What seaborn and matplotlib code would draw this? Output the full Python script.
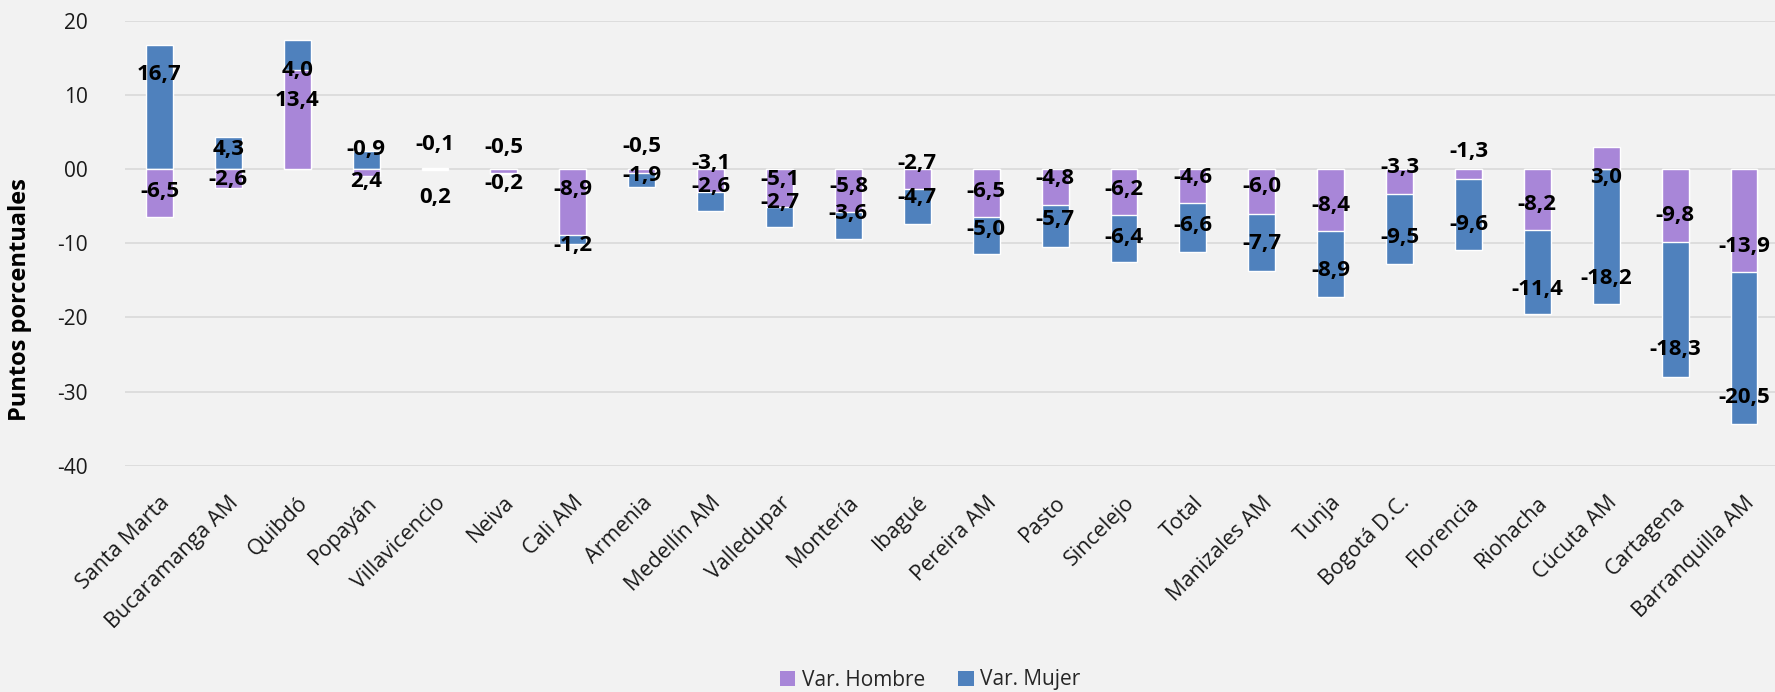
import matplotlib
matplotlib.use("Agg")
import matplotlib.pyplot as plt
import seaborn as sns
import pandas as pd
from matplotlib.patches import Patch

# Categories and series (percentage points)
ciudades = ["Santa Marta", "Bucaramanga AM", "Quibdó", "Popayán", "Villavicencio",
            "Neiva", "Cali AM", "Armenia", "Medellín AM", "Valledupar", "Montería",
            "Ibagué", "Pereira AM", "Pasto", "Sincelejo", "Total", "Manizales AM",
            "Tunja", "Bogotá D.C.", "Florencia", "Riohacha", "Cúcuta AM",
            "Cartagena", "Barranquilla AM"]
var_hombre = [-6.5, -2.6, 13.4, -0.9, -0.1, -0.5, -8.9, -0.5, -3.1, -5.1, -5.8, -2.7,
              -6.5, -4.8, -6.2, -4.6, -6.0, -8.4, -3.3, -1.3, -8.2, 3.0, -9.8, -13.9]
var_mujer = [16.7, 4.3, 4.0, 2.4, 0.2, -0.2, -1.2, -1.9, -2.6, -2.7, -3.6, -4.7,
             -5.0, -5.7, -6.4, -6.6, -7.7, -8.9, -9.5, -9.6, -11.4, -18.2, -18.3, -20.5]

# Vertical placement of the value labels (data units)
pos_lbl_hombre = [-3.06, -1.35, 9.3, 2.6, 3.37, 2.9, -2.7, 3.0, 0.75, -1.35, -2.34, 0.81,
                  -3.06, -1.26, -2.79, -1.12, -2.38, -4.94, 0.22, 2.33, -4.72, -1.12, -6.2, -10.5]
pos_lbl_mujer = [12.7, 2.6, 13.35, -1.66, -3.8, -2.0, -10.3, -0.9, -2.35, -4.45, -5.93, -3.82,
                 -8.09, -6.83, -9.2, -7.55, -10.1, -13.7, -9.2, -7.42, -16.2, -14.7, -24.4, -30.8]

yticks = [20, 10, 0, -10, -20, -30, -40]
ytick_labels = ["20", "10", "00", "-10", "-20", "-30", "-40"]

COL_H = "#A886D8"
COL_M = "#4F81BD"
BG = "#F2F2F2"

sns.set_theme(style="white")
plt.rcParams["font.family"] = ["Open Sans", "DejaVu Sans"]

df = pd.DataFrame({"ciudad": ciudades, "hombre": var_hombre, "mujer": var_mujer})
# Stacking like a diverging stacked column: Mujer sits on Hombre when both share sign
same_sign = (df["hombre"] * df["mujer"]) > 0
df["base_m"] = df["hombre"].where(same_sign, 0.0)
df["tope_m"] = df["base_m"] + df["mujer"]

fig = plt.figure(figsize=(17.75, 6.92), dpi=100, facecolor=BG)
ax = fig.add_axes([125 / 1775, 1 - 465.7 / 692, 1653.5 / 1775, 445 / 692])
ax.set_facecolor(BG)

bw = 0.39
sns.barplot(data=df, x="ciudad", y="tope_m", order=ciudades, color=COL_M,
            saturation=1, width=bw, ax=ax, zorder=2)
sns.barplot(data=df, x="ciudad", y="hombre", order=ciudades, color=COL_H,
            saturation=1, width=bw, ax=ax, zorder=3)

def fmt(v):
    return f"{v:.1f}".replace(".", ",")

for i in range(len(ciudades)):
    ax.text(i, pos_lbl_hombre[i], fmt(var_hombre[i]), ha="center", va="center",
            fontsize=16, fontweight="bold", color="black", zorder=5)
    ax.text(i, pos_lbl_mujer[i], fmt(var_mujer[i]), ha="center", va="center",
            fontsize=16, fontweight="bold", color="black", zorder=5)

ax.set_xlim(-0.5, len(ciudades) - 0.5)
ax.set_ylim(-40, 20)
ax.set_yticks(yticks)
ax.set_yticklabels(ytick_labels, fontsize=15, color="#1a1a1a")
ax.yaxis.grid(True, color="#D9D9D9", linewidth=1.2, zorder=0)
ax.set_axisbelow(True)
ax.tick_params(axis="y", length=0, pad=27)
ax.tick_params(axis="x", length=0, pad=19)
ax.set_xticks(range(len(ciudades)))
ax.set_xticklabels(ciudades, rotation=45, ha="right", rotation_mode="anchor",
                   fontsize=15.5, color="#1a1a1a")
ax.set_xlabel("")
ax.set_ylabel("")
for s in ax.spines.values():
    s.set_visible(False)

fig.text(20 / 1775, 1 - 300 / 692, "Puntos porcentuales", rotation=90,
         ha="center", va="center", fontsize=17, fontweight="bold", color="black")

handles = [Patch(facecolor=COL_H, edgecolor="none", label="Var. Hombre"),
           Patch(facecolor=COL_M, edgecolor="none", label="Var. Mujer")]
fig.legend(handles=handles, loc="center", bbox_to_anchor=(930 / 1775, 1 - 680 / 692),
           ncol=2, frameon=False, fontsize=15, handlelength=0.75, handleheight=0.75,
           handletextpad=0.3, columnspacing=1.6)

fig.savefig("out.png", dpi=100, facecolor=BG)
